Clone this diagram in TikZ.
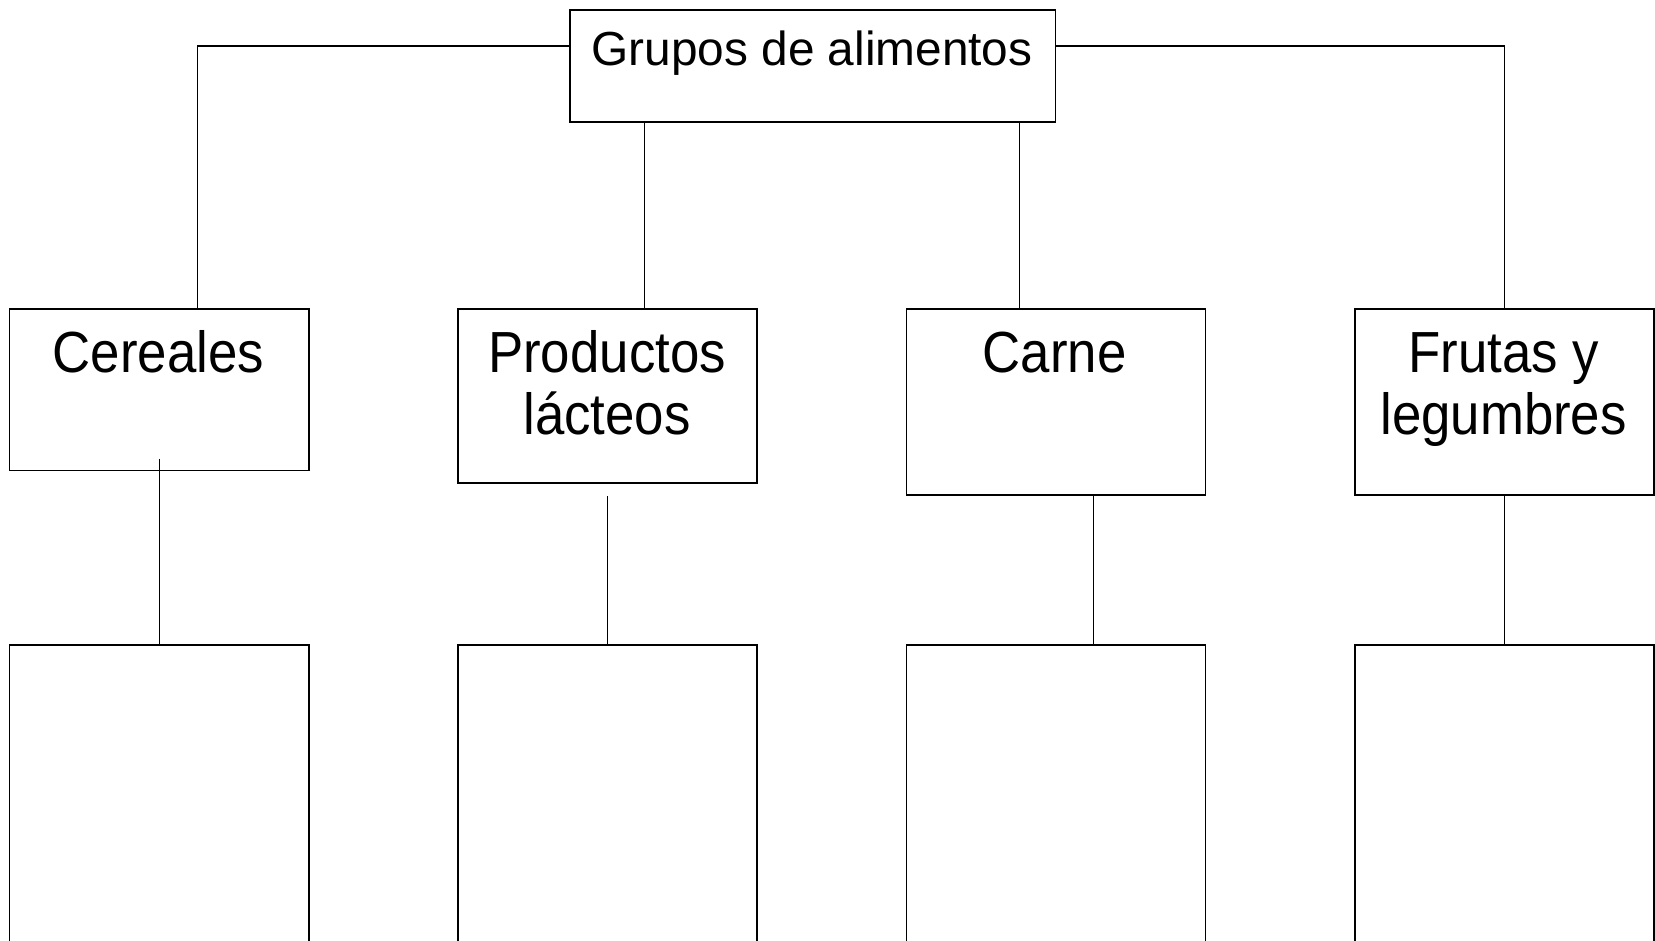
\documentclass[tikz,border=0pt]{standalone}
\usepackage{fontspec}
\setmainfont{Liberation Sans}
\usepackage{graphicx}
\tikzset{
  box/.style={draw=black, line width=1.6pt, rectangle, inner sep=0pt, anchor=north west},
  conn/.style={draw=black, line width=1.2pt},
  toptext/.style={anchor=base, inner sep=0pt, font=\fontsize{47.8}{57}\selectfont},
  lbl/.style={anchor=base, inner sep=0pt, font=\fontsize{58}{66}\selectfont},
}
\newcommand{\nar}[1]{\scalebox{0.91}[1]{#1}}
\begin{document}
\begin{tikzpicture}[x=1pt,y=-1pt]
\useasboundingbox (0,0) rectangle (1655,941);
\clip (0,0) rectangle (1655,941);
% top box
\node[box, minimum width=485.5pt, minimum height=112pt] (top) at (569.3,9) {};
\node[toptext] (toplbl) at (812,65.5) {Grupos de alimentos};
% middle row
\node[box, minimum width=299.5pt, minimum height=161.5pt] (cer) at (8.6,308.2) {};
\node[box, minimum width=299pt, minimum height=174pt] (pro) at (457,308.2) {};
\node[box, minimum width=299pt, minimum height=185.8pt] (car) at (905.6,308.2) {};
\node[box, minimum width=299pt, minimum height=185.8pt] (fru) at (1354.2,308.2) {};
% labels
\node[lbl] (cerl) at (158.3,372) {\nar{Cereales}};
\node[lbl] (prol1) at (607,372) {\nar{Productos}};
\node[lbl] (prol2) at (607,434) {\nar{lácteos}};
\node[lbl] (carl) at (1054.5,372) {\nar{Carne}};
\node[lbl] (frul1) at (1503.5,372) {\nar{Frutas y}};
\node[lbl] (frul2) at (1503.5,434) {\nar{legumbres}};
% bottom row
\node[box, minimum width=299.5pt, minimum height=330pt] (b1) at (8.6,644) {};
\node[box, minimum width=299pt, minimum height=330pt] (b2) at (457,644) {};
\node[box, minimum width=299pt, minimum height=330pt] (b3) at (905.6,644) {};
\node[box, minimum width=299pt, minimum height=330pt] (b4) at (1354.2,644) {};
% connectors from top
\draw[conn] ([yshift=-37pt]top.north west) -| ([xshift=38pt]cer.north);
\draw[conn] ([yshift=-37pt]top.north east) -| (fru.north);
\draw[conn] ([xshift=75pt]top.south west) coordinate (tp) -- (tp |- pro.north);
\draw[conn] ([xshift=-37pt]top.south east) coordinate (tc) -- (tc |- car.north);
% connectors to bottom row
\draw[conn] ([yshift=12.5pt]cer.south) -- (b1.north);
\draw[conn] ([yshift=-12.5pt]pro.south) -- (b2.north);
\draw[conn] ([xshift=37.5pt]car.south) coordinate (cb) -- (cb |- b3.north);
\draw[conn] (fru.south) -- (b4.north);
\end{tikzpicture}
\end{document}
